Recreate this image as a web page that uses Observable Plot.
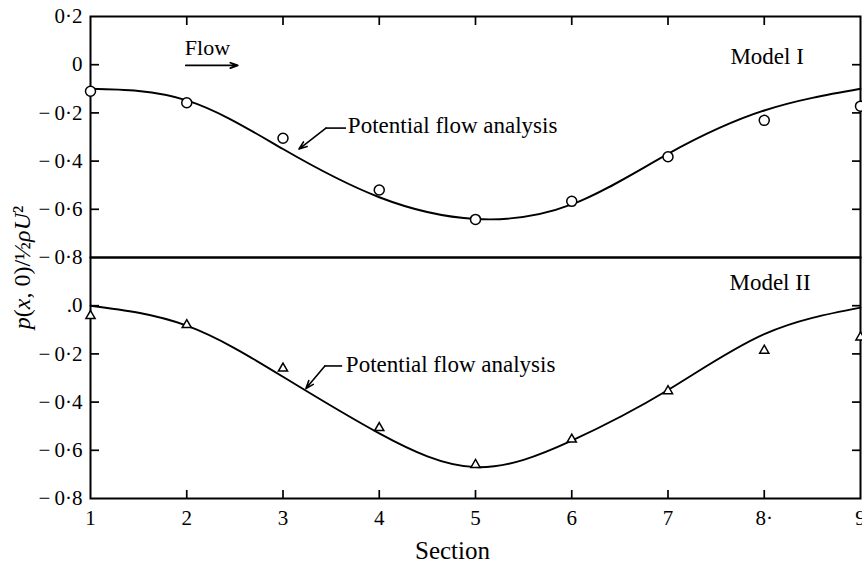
<!DOCTYPE html>
<html>
<head>
<meta charset="utf-8">
<script src="https://cdn.jsdelivr.net/npm/d3@7"></script>
<script src="https://cdn.jsdelivr.net/npm/@observablehq/plot@0.6"></script>
<style>
  html, body { margin: 0; padding: 0; background: #fff; }
</style>
</head>
<body>
<div id="chart"></div>
<script>
// Pressure coefficient along the model, measured vs. potential-flow theory
const panels = ["Model I", "Model II"];
const sections = [1, 2, 3, 4, 5, 6, 7, 8, 9];
const xTickLabels = ["1", "2", "3", "4", "5", "6", "7", "8·", "9"];

const model1Measured  = [-0.11, -0.158, -0.305, -0.52, -0.642, -0.567, -0.382, -0.231, -0.172];
const model1Potential = [-0.10, -0.148, -0.35, -0.55, -0.64, -0.58, -0.37, -0.19, -0.10];
const model2Measured  = [-0.042, -0.08, -0.26, -0.507, -0.66, -0.555, -0.354, -0.186, -0.131];
const model2Potential = [0.0, -0.083, -0.295, -0.53, -0.67, -0.56, -0.35, -0.118, -0.008];

const yTicksUpper = [0.2, 0, -0.2, -0.4, -0.6, -0.8];
const yLabelsUpper = ["0·2", "0", "−\u20090·2", "−\u20090·4", "−\u20090·6", "−\u20090·8"];
const yTicksLower = [0, -0.2, -0.4, -0.6, -0.8];
const yLabelsLower = [".0", "−\u20090·2", "−\u20090·4", "−\u20090·6", "−\u20090·8"];
const innerYTicks = [0, -0.2, -0.4, -0.6];
const innerXTicks = [2, 3, 4, 5, 6, 7, 8];

const yAxisTitle = "p(x, 0)/½ρU²";
const xAxisTitle = "Section";
const leaderText = "Potential flow analysis";

// tables built from the arrays above
const rows = (panel, values) => sections.map((s, i) => ({panel, section: s, value: values[i]}));
const measured1 = rows("Model I", model1Measured);
const measured2 = rows("Model II", model2Measured);
const theory = [...rows("Model I", model1Potential), ...rows("Model II", model2Potential)];

const yTickRows = [
  ...yTicksUpper.map((v, i) => ({panel: "Model I", value: v, label: yLabelsUpper[i]})),
  ...yTicksLower.map((v, i) => ({panel: "Model II", value: v, label: yLabelsLower[i]}))
];
const xTickRows = sections.map((s, i) => ({panel: "Model II", value: s, label: xTickLabels[i]}));

// annotation anchors in data units
const panelTitles = [
  {panel: "Model I", x: 8.03, y: 0.034, text: "Model I"},
  {panel: "Model II", x: 8.06, y: 0.094, text: "Model II"}
];
const leaderLabels = [
  {panel: "Model I", x: 3.674, y: -0.254},
  {panel: "Model II", x: 3.653, y: -0.246}
];
const leaderStubs = [
  {panel: "Model I", x1: 3.446, x2: 3.66, y: -0.263},
  {panel: "Model II", x1: 3.435, x2: 3.62, y: -0.25}
];
const leaderArrows = [
  {panel: "Model I", x1: 3.446, y1: -0.263, x2: 3.166, y2: -0.35},
  {panel: "Model II", x1: 3.435, y1: -0.25, x2: 3.238, y2: -0.344}
];
const flowLabel = [{panel: "Model I", x: 1.98, y: 0.071, text: "Flow"}];
const flowArrow = [{panel: "Model I", x1: 1.99, x2: 2.53, y: -0.003}];

const serif = "'Liberation Serif', 'DejaVu Serif', serif";

const chart = Plot.plot({
  width: 862,
  height: 563,
  marginLeft: 90,
  marginRight: 2,
  marginTop: 15,
  marginBottom: 65,
  style: {fontFamily: serif, fontSize: "21px", background: "#fff", color: "#000"},
  x: {domain: [1, 9]},
  y: {domain: [-0.8, 0.2]},
  fy: {domain: panels, axis: null, padding: 0},
  marks: [
    Plot.frame({strokeWidth: 2}),
    Plot.axisY({anchor: "left", ticks: innerYTicks, tickSize: -9, fill: "none", strokeWidth: 1.7}),
    Plot.axisY({anchor: "right", ticks: innerYTicks, tickSize: -9, fill: "none", strokeWidth: 1.7}),
    Plot.axisX({anchor: "top", ticks: innerXTicks, tickSize: -8, fill: "none", strokeWidth: 1.7}),
    Plot.axisX({anchor: "bottom", ticks: innerXTicks, tickSize: -8, fill: "none", strokeWidth: 1.7}),

    // tick labels
    Plot.text(yTickRows, {y: "value", fy: "panel", text: "label", frameAnchor: "left",
      textAnchor: "end", dx: -8, fontSize: 21}),
    Plot.text(xTickRows, {x: "value", fy: "panel", text: "label", frameAnchor: "bottom",
      lineAnchor: "middle", dy: 20, fontSize: 21}),

    // axis titles
    Plot.text([{panel: "Model II"}], {fy: "panel", frameAnchor: "bottom", text: () => xAxisTitle,
      dx: -23, dy: 52, lineAnchor: "middle", fontSize: 25}),
    Plot.text([{panel: "Model II"}], {fy: "panel", frameAnchor: "top-left", text: () => yAxisTitle,
      rotate: -90, dx: -68, dy: 10, textAnchor: "middle", lineAnchor: "middle", fontSize: 24}),

    // theory curves and measurements
    Plot.line(theory, {x: "section", y: "value", fy: "panel", curve: "natural", stroke: "#000", strokeWidth: 1.9}),
    Plot.dot(measured1, {x: "section", y: "value", fy: "panel", r: 5, stroke: "#000", fill: "#fff", strokeWidth: 1.5}),
    Plot.dot(measured2, {x: "section", y: "value", fy: "panel", symbol: "triangle", r: 3.4, stroke: "#000", fill: "#fff", strokeWidth: 1.5}),

    // annotations
    Plot.text(panelTitles, {x: "x", y: "y", fy: "panel", text: "text", fontSize: 23}),
    Plot.text(flowLabel, {x: "x", y: "y", fy: "panel", text: "text", textAnchor: "start", fontSize: 22}),
    Plot.arrow(flowArrow, {x1: "x1", x2: "x2", y1: "y", y2: "y", fy: "panel", strokeWidth: 1.7, headLength: 7, headAngle: 40}),
    Plot.ruleY(leaderStubs, {x1: "x1", x2: "x2", y: "y", fy: "panel", strokeWidth: 1.6}),
    Plot.arrow(leaderArrows, {x1: "x1", y1: "y1", x2: "x2", y2: "y2", fy: "panel", strokeWidth: 1.6, headLength: 8, headAngle: 40}),
    Plot.text(leaderLabels, {x: "x", y: "y", fy: "panel", text: () => leaderText, textAnchor: "start", fontSize: 23})
  ]
});

// set the variables of the y-axis title in italics
d3.select(chart).selectAll("text").filter(function () { return this.textContent === yAxisTitle; })
  .each(function () {
    const t = d3.select(this);
    t.text(null);
    const parts = [["p", true], ["(", false], ["x", true], [", 0)/", false], ["½", false], ["ρU", true], ["²", false]];
    for (const [s, it] of parts) t.append("tspan").attr("font-style", it ? "italic" : "normal").text(s);
  });

document.getElementById("chart").appendChild(chart);
</script>
</body>
</html>
